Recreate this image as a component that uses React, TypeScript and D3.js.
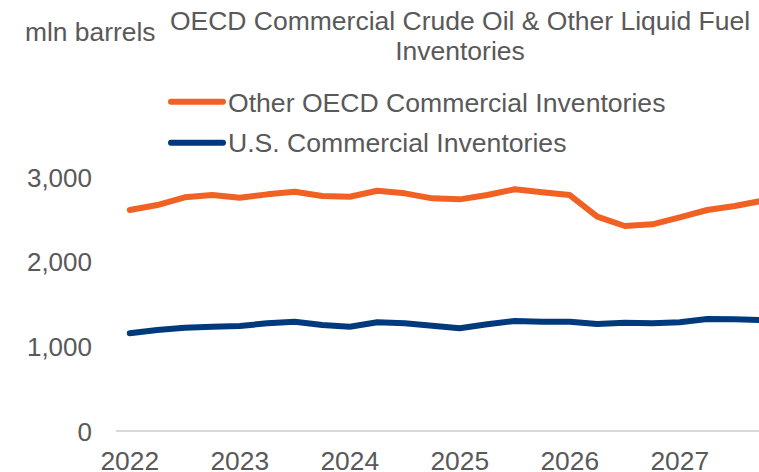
import React from "react";
import * as d3 from "d3";

const quarters: string[] = [
  "2022Q1","2022Q2","2022Q3","2022Q4",
  "2023Q1","2023Q2","2023Q3","2023Q4",
  "2024Q1","2024Q2","2024Q3","2024Q4",
  "2025Q1","2025Q2","2025Q3","2025Q4",
  "2026Q1","2026Q2","2026Q3","2026Q4",
  "2027Q1","2027Q2","2027Q3","2027Q4",
];

const otherOECD: number[] = [
  2610, 2669, 2760, 2787, 2756, 2795, 2826, 2775, 2767, 2838, 2807, 2748,
  2736, 2787, 2855, 2819, 2787, 2531, 2421, 2441, 2524, 2610, 2657, 2720,
];

const usCommercial: number[] = [
  1154, 1193, 1220, 1232, 1240, 1272, 1291, 1252, 1232, 1284, 1272, 1244,
  1213, 1260, 1299, 1291, 1291, 1264, 1279, 1272, 1284, 1323, 1319, 1311,
];

const yTicks: number[] = [0, 1000, 2000, 3000];
const seriesNames: string[] = ["Other OECD Commercial Inventories", "U.S. Commercial Inventories"];
const seriesColors: string[] = ["#F26124", "#003A7D"];
const titleLines: string[] = ["OECD Commercial Crude Oil & Other Liquid Fuel", "Inventories"];
const yUnit = "mln barrels";

const W = 759;
const H = 472;
const FONT = "Liberation Sans, Arial, sans-serif";
const TEXT = "#595959";

export default function App() {
  const step = 27.5;
  const x = d3.scaleLinear().domain([0, quarters.length - 1]).range([129.75, 129.75 + step * (quarters.length - 1)]);
  const y = d3.scaleLinear().domain([0, 3000]).range([431, 177]);
  const line = d3.line<number>().x((_, i) => x(i)).y((d) => y(d));
  const series = [otherOECD, usCommercial];
  const fmt = d3.format(",");

  return (
    <svg width={W} height={H} style={{ position: "absolute", left: 0, top: 0, background: "#fff" }} fontFamily={FONT}>
      <defs>
        <clipPath id="plot">
          <rect x={0} y={0} width={W} height={H} />
        </clipPath>
      </defs>
      <text x={25} y={40.5} fontSize={26.4} fill={TEXT}>{yUnit}</text>
      {titleLines.map((t, i) => (
        <text key={t} x={460} y={29.5 + i * 30.5} fontSize={26.5} fill={TEXT} textAnchor="middle">{t}</text>
      ))}
      {seriesNames.map((n, i) => (
        <g key={n}>
          <line x1={171} x2={223} y1={101.7 + i * 41} y2={101.7 + i * 41} stroke={seriesColors[i]} strokeWidth={6} strokeLinecap="round" />
          <text x={228} y={111.5 + i * 40} fontSize={26.6} fill={TEXT}>{n}</text>
        </g>
      ))}
      <line x1={116} x2={W} y1={y(0)} y2={y(0)} stroke="#D9D9D9" strokeWidth={2} />
      {yTicks.map((t) => (
        <text key={t} x={92} y={y(t) + 9.5} fontSize={26} fill={TEXT} textAnchor="end">{fmt(t)}</text>
      ))}
      {quarters.map((q, i) =>
        q.endsWith("Q1") ? (
          <text key={q} x={x(i)} y={469.5} fontSize={26.4} fill={TEXT} textAnchor="middle">{q.slice(0, 4)}</text>
        ) : null
      )}
      <g clipPath="url(#plot)">
        {series.map((s, i) => (
          <path key={i} d={line(s) || ""} fill="none" stroke={seriesColors[i]} strokeWidth={6} strokeLinejoin="round" strokeLinecap="round" />
        ))}
      </g>
    </svg>
  );
}
